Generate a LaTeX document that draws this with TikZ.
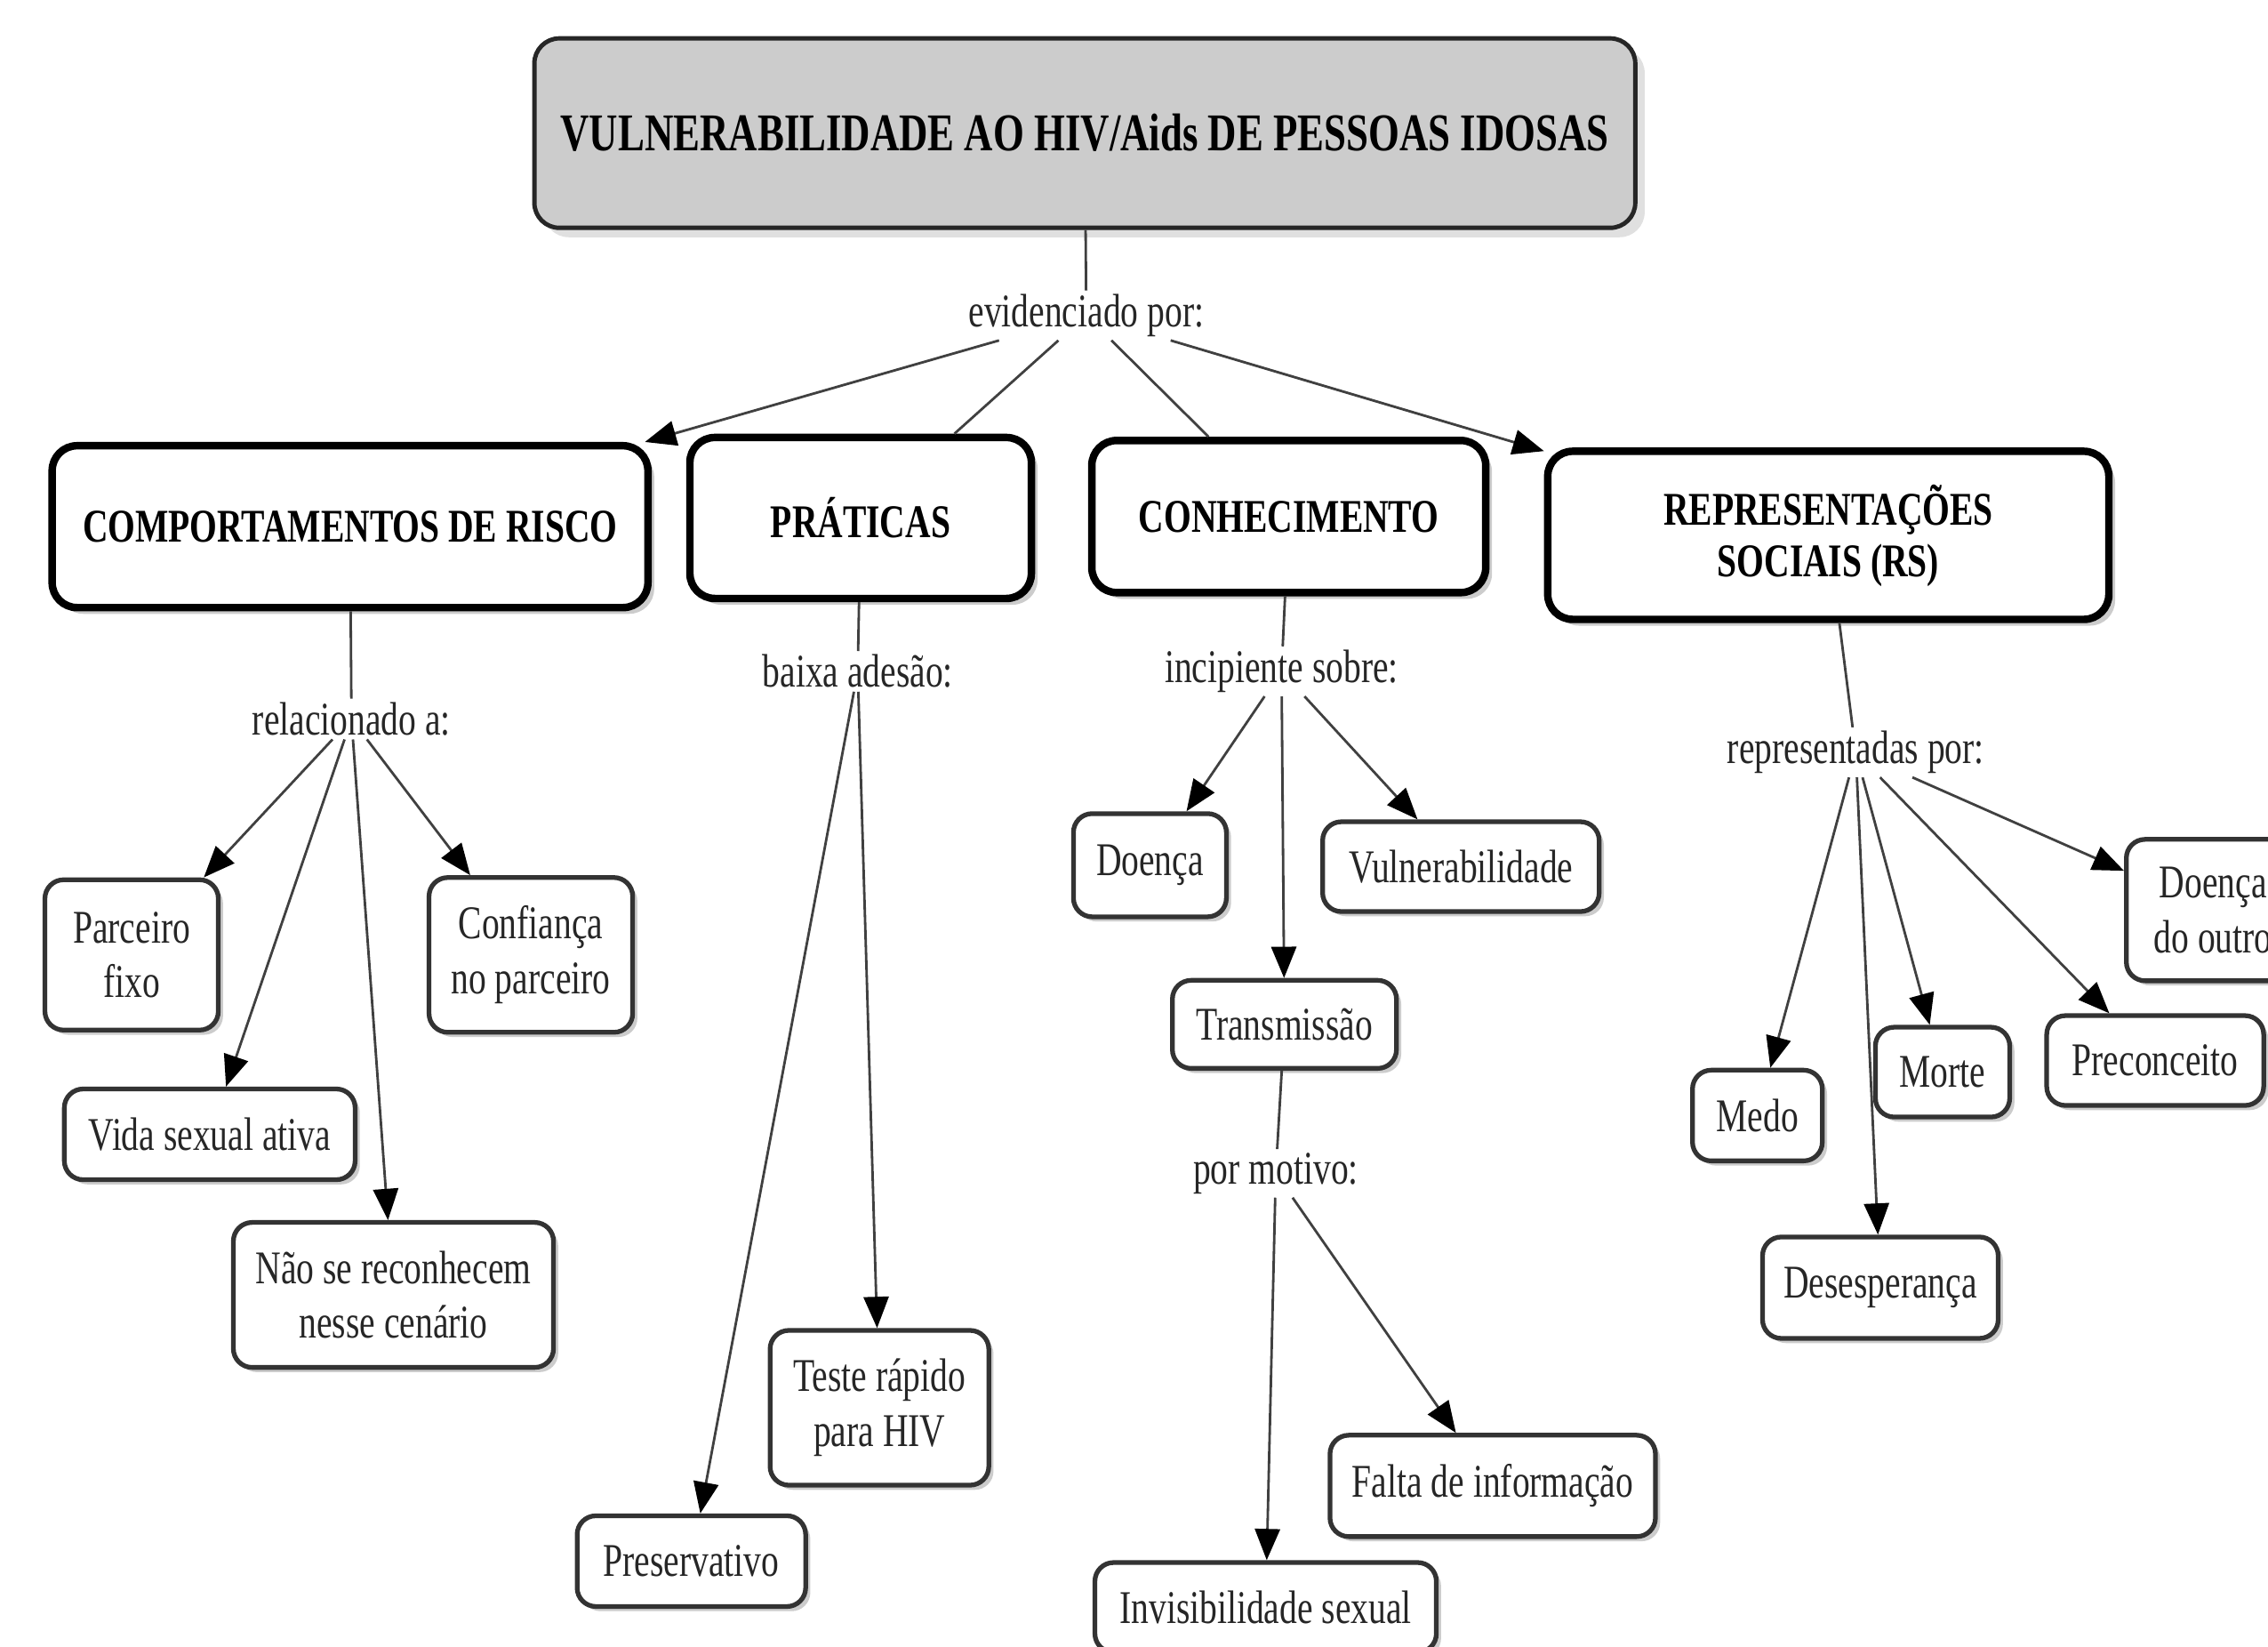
\documentclass[tikz,border=0pt]{standalone}
\usepackage{fontspec}
\setmainfont{Liberation Serif}[FakeStretch=0.75]
\usetikzlibrary{arrows.meta,shadows}

\begin{document}
\begin{tikzpicture}[x=0.016269cm,y=-0.016269cm,
  every node/.style={font=\fontsize{15}{17.5}\selectfont,text=black!85},
  titlebox/.style={draw=black!85,line width=1.4pt,fill=black!20,rounded corners=8pt,
    drop shadow={shadow xshift=3pt,shadow yshift=-3pt,fill=black!12,opacity=1},
    font=\fontsize{17}{19}\selectfont\bfseries,text=black},
  mainbox/.style={draw=black,line width=2.4pt,fill=white,rounded corners=8pt,align=center,
    drop shadow={shadow xshift=2pt,shadow yshift=-2pt,fill=black!20,opacity=1},
    font=\fontsize{15}{16.5}\selectfont\bfseries,text=black},
  leaf/.style={draw=black!80,line width=1.5pt,fill=white,rounded corners=6pt,align=center,
    drop shadow={shadow xshift=1.5pt,shadow yshift=-1.5pt,fill=black!20,opacity=1}},
  lbl/.style={inner sep=1pt},
  link/.style={draw=black!75,line width=0.8pt},
  arr/.style={link,-{Triangle[length=10pt,width=8pt,black]}}
]
\useasboundingbox (0,0) rectangle (1568,1138);
\clip (0,0) rectangle (1568,1138);

% top
\node[titlebox,minimum width=12.38cm,minimum height=2.13cm] (vul) at (750,92) {VULNERABILIDADE AO HIV/Aids DE PESSOAS IDOSAS};
\node[lbl] (evid) at (751,218) {evidenciado por:};

% main boxes
\node[mainbox,minimum width=6.70cm,minimum height=1.82cm] (comp) at (242,364) {COMPORTAMENTOS DE RISCO};
\node[mainbox,minimum width=3.84cm,minimum height=1.81cm] (prat) at (595,358) {PRÁTICAS};
\node[mainbox,minimum width=4.43cm,minimum height=1.71cm] (conh) at (891,357) {CONHECIMENTO};
\node[mainbox,minimum width=6.31cm,minimum height=1.89cm] (rs) at (1264,370) {REPRESENTAÇÕES\\SOCIAIS (RS)};

% linking words
\node[lbl] (rel) at (243,497) {relacionado a:};
\node[lbl] (baixa) at (593,464) {baixa adesão:};
\node[lbl] (incip) at (886,464) {incipiente sobre:};
\node[lbl] (repr) at (1283,520) {representadas por:};
\node[lbl] (motivo) at (882,811) {por motivo:};

% comportamentos
\node[leaf,minimum width=1.95cm,minimum height=1.69cm] (parc) at (91,660) {Parceiro\\fixo};
\node[leaf,minimum width=2.29cm,minimum height=1.74cm] (conf) at (367,660) {Confiança\\no parceiro};
\node[leaf,minimum width=3.27cm,minimum height=1.02cm] (vida) at (145,784) {Vida sexual ativa};
\node[leaf,minimum width=3.60cm,minimum height=1.63cm] (naose) at (272,895) {Não se reconhecem\\nesse cenário};

% praticas
\node[leaf,minimum width=2.46cm,minimum height=1.74cm] (teste) at (608,973) {Teste rápido\\para HIV};
\node[leaf,minimum width=2.57cm,minimum height=1.02cm] (pres) at (478,1079) {Preservativo};

% conhecimento
\node[leaf,minimum width=1.72cm,minimum height=1.16cm] (doenca) at (795,598) {Doença};
\node[leaf,minimum width=3.11cm,minimum height=1.01cm] (vuln) at (1010,599) {Vulnerabilidade};
\node[leaf,minimum width=2.52cm,minimum height=0.99cm] (transm) at (888,708) {Transmissão};
\node[leaf,minimum width=3.66cm,minimum height=1.14cm] (falta) at (1032,1027) {Falta de informação};
\node[leaf,minimum width=3.84cm,minimum height=1.01cm] (invis) at (875,1111) {Invisibilidade sexual};

% representacoes
\node[leaf,minimum width=1.95cm,minimum height=1.59cm] (outro) at (1530,629) {Doença\\do outro};
\node[leaf,minimum width=2.44cm,minimum height=1.01cm] (prec) at (1490,733) {Preconceito};
\node[leaf,minimum width=1.51cm,minimum height=1.01cm] (morte) at (1343,741) {Morte};
\node[leaf,minimum width=1.46cm,minimum height=1.02cm] (medo) at (1215,771) {Medo};
\node[leaf,minimum width=2.65cm,minimum height=1.14cm] (desesp) at (1300,890) {Desesperança};

% connectors
\draw[link] (vul) -- (evid);
\draw[arr] (evid) -- (comp);
\draw[link] (evid) -- (prat);
\draw[link] (evid) -- (conh);
\draw[arr] (evid) -- (rs);

\draw[link] (comp) -- (rel);
\draw[arr] (rel) -- (parc);
\draw[arr] (rel) -- (vida);
\draw[arr] (rel) -- (naose);
\draw[arr] (rel) -- (conf);

\draw[link] (prat) -- (baixa);
\draw[arr] (baixa) -- (pres);
\draw[arr] (baixa) -- (teste);

\draw[link] (conh) -- (incip);
\draw[arr] (incip) -- (doenca);
\draw[arr] (incip) -- (transm);
\draw[arr] (incip) -- (vuln);
\draw[link] (transm) -- (motivo);
\draw[arr] (motivo) -- (invis);
\draw[arr] (motivo) -- (falta);

\draw[link] (rs) -- (repr);
\draw[arr] (repr) -- (medo);
\draw[arr] (repr) -- (desesp);
\draw[arr] (repr) -- (morte);
\draw[arr] (repr) -- (prec);
\draw[arr] (repr) -- (outro);
\end{tikzpicture}
\end{document}
